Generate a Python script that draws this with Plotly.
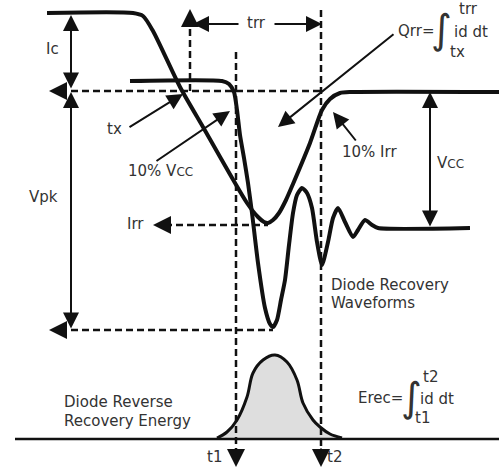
import plotly.graph_objects as go

# ---- waveform data (diagram units = reference pixels) ----
ic_x = [47, 133, 143, 153, 180, 203, 247, 258, 264, 268, 273, 279, 286, 293, 310, 322, 330, 340, 352, 499]
ic_y = [13, 13, 16, 31, 87, 127, 203, 217, 222, 223, 220, 213, 200, 184, 143, 110, 99, 93, 92, 92]

v_x = [130, 222, 229, 234, 237, 240, 244, 248, 252, 258, 265, 270, 273, 277, 281, 285, 289, 293, 297, 302, 307,
       312, 317, 322, 328, 333, 338, 345, 353, 358, 365, 372, 378, 470]
v_y = [81, 81, 84, 92, 110, 135, 158, 183, 213, 263, 308, 324, 327, 320, 300, 280, 245, 213, 195, 188, 193,
       208, 242, 265, 242, 218, 208, 222, 237, 230, 220, 225, 228, 228]

bump_x = [217, 227, 237, 247, 253, 263, 275, 287, 297, 303, 313, 320, 330, 342]
bump_y = [438, 432, 420, 397, 373, 360, 355, 362, 380, 403, 420, 427, 434, 438]

base_x = [15, 499]
base_y = [439, 439]

# dashed guide lines: (x list, y list)
dash_lines = [
    ([60, 322], [91, 91]),
    ([190, 190], [91, 24]),
    ([236, 236], [52, 450]),
    ([321, 321], [10, 450]),
    ([165, 268], [225, 225]),
    ([60, 273], [330, 330]),
]
# arrowheads at the ends of dashed lines: (tip, tail)
dash_tips = [
    ((49, 91), (68, 91)),
    ((190, 9), (190, 28)),
    ((236, 467), (236, 447)),
    ((321, 467), (321, 447)),
    ((153, 225), (172, 225)),
    ((49, 330), (68, 330)),
]
# solid arrows: (tip, tail, double)
solid_arrows = [
    ((71, 15), (71, 90), True),
    ((71, 92), (71, 330), True),
    ((430, 92), (430, 228), True),
    ((193, 24), (240, 24), False),
    ((322, 24), (273, 24), False),
    ((183, 94), (128, 128), False),
    ((230, 111), (155, 162), False),
    ((278, 127), (395, 33), False),
    ((333, 112), (357, 142), False),
]
# text labels: (text, x, y, anchor, size)
labels = [
    ("Ic", 52, 49, "center", 15),
    ("Vpk", 43, 197, "center", 15),
    ("tx", 114, 129, "center", 15),
    ("10% V<span style='font-size:12px'>CC</span>", 160, 171, "center", 15),
    ("Irr", 135, 224, "center", 15),
    ("trr", 256, 23, "center", 15),
    ("Qrr=", 416, 31, "center", 15),
    ("trr", 468, 9, "center", 15),
    ("id dt", 471, 32, "center", 15),
    ("tx", 457, 52, "center", 15),
    ("10% Irr", 369, 152, "center", 15),
    ("V<span style='font-size:12px'>CC</span>", 450, 163, "center", 15),
    ("Diode Recovery", 329, 285, "left", 15),
    ("Waveforms", 329, 303, "left", 15),
    ("Diode Reverse", 62, 402, "left", 15),
    ("Recovery Energy", 62, 421, "left", 15),
    ("Erec=", 380, 398, "center", 15),
    ("t2", 430, 377, "center", 15),
    ("id dt", 437, 399, "center", 15),
    ("t1", 422, 418, "center", 15),
    ("t1", 214, 457, "center", 15),
    ("t2", 334, 457, "center", 15),
]
integrals = [(441, 29), (411, 397)]

INK = "#111111"
TXT = "#333333"
FONT = "DejaVu Sans"

fig = go.Figure()

fig.add_trace(go.Scatter(x=bump_x, y=bump_y, mode="lines", fill="toself", fillcolor="#dedede",
                         line=dict(color=INK, width=3, shape="spline", smoothing=1.0), hoverinfo="skip"))
fig.add_trace(go.Scatter(x=base_x, y=base_y, mode="lines", line=dict(color=INK, width=2.5), hoverinfo="skip"))

for xs, ys in dash_lines:
    fig.add_trace(go.Scatter(x=xs, y=ys, mode="lines",
                             line=dict(color=INK, width=2.5, dash="7px,4px"), hoverinfo="skip"))

fig.add_trace(go.Scatter(x=ic_x, y=ic_y, mode="lines",
                         line=dict(color=INK, width=4, shape="spline", smoothing=0.7), hoverinfo="skip"))
fig.add_trace(go.Scatter(x=v_x, y=v_y, mode="lines",
                         line=dict(color=INK, width=4, shape="spline", smoothing=0.6), hoverinfo="skip"))

for tip, tail in dash_tips:
    fig.add_annotation(x=tip[0], y=tip[1], ax=tail[0], ay=tail[1], axref="x", ayref="y",
                       xref="x", yref="y", text="", showarrow=True, arrowhead=2,
                       arrowsize=1.8, arrowwidth=2, arrowcolor=INK)

for tip, tail, double in solid_arrows:
    fig.add_annotation(x=tip[0], y=tip[1], ax=tail[0], ay=tail[1], axref="x", ayref="y",
                       xref="x", yref="y", text="", showarrow=True, arrowhead=2,
                       arrowsize=1.6, arrowwidth=2, arrowcolor=INK,
                       arrowside="end+start" if double else "end",
                       startarrowhead=2, startarrowsize=1.6)

for text, x, y, anchor, size in labels:
    fig.add_annotation(x=x, y=y, xref="x", yref="y", text=text, showarrow=False,
                       xanchor=anchor, yanchor="middle",
                       font=dict(family=FONT, size=size, color=TXT))

for x, y in integrals:
    fig.add_annotation(x=x, y=y, xref="x", yref="y", text="∫", showarrow=False,
                       xanchor="center", yanchor="middle",
                       font=dict(family=FONT, size=40, color=TXT))

fig.update_layout(
    width=499, height=470,
    margin=dict(l=0, r=0, t=0, b=0),
    paper_bgcolor="white", plot_bgcolor="white",
    showlegend=False,
    xaxis=dict(range=[0, 499], visible=False, fixedrange=True),
    yaxis=dict(range=[470, 0], visible=False, fixedrange=True),
)

fig.write_html("out.html", config={"displayModeBar": False},
               post_script="document.body.style.margin='0';document.body.style.overflow='hidden';")
